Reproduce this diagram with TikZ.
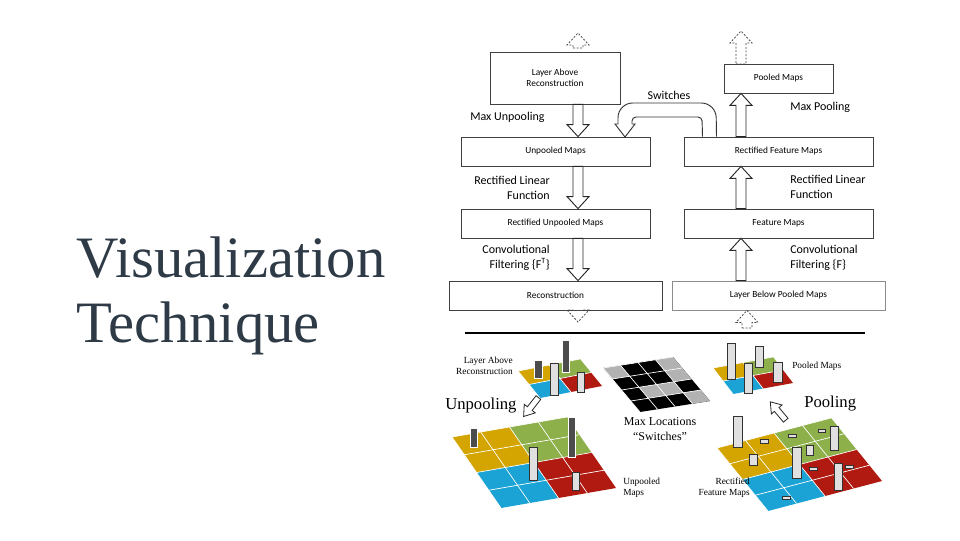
\documentclass[tikz,border=0pt]{standalone}
\usepackage{fontspec}
\setmainfont{Liberation Serif}
\newfontfamily\calfont{Carlito}
\usetikzlibrary{calc}
\definecolor{yel}{HTML}{D4A500}
\definecolor{grn}{HTML}{8DB04A}
\definecolor{blu}{HTML}{1AA3D4}
\definecolor{rd}{HTML}{B01A10}
\definecolor{ttl}{HTML}{2E3B47}
\tikzset{
 box/.style={draw=black!75,line width=0.6pt,minimum height=21.75pt,inner sep=1pt,font=\calfont\fontsize{7}{8}\selectfont,align=center},
 lbl/.style={font=\calfont\fontsize{9}{11.5}\selectfont,inner sep=0pt},
 fat/.style={draw=black!85,line width=0.7pt,fill=white},
 fatd/.style={draw=black!70,line width=0.6pt,dashed,dash pattern=on 1.5pt off 1.2pt},
 sl/.style={font=\fontsize{7}{8}\selectfont,inner sep=0pt},
 lbar/.style={fill=black!12,draw=black!80,line width=0.5pt},
 dbar/.style={fill=black!70,draw=white,line width=0.5pt},
 gl/.style={draw=white,line width=0.5pt},
}
\newcommand\fatdown[4][fat]{\draw[#1] let \p1=#3, \p2=#4, \p3=(#2,0) in
 ({\x3-3.75pt},\y1)--({\x3+3.75pt},\y1)--({\x3+3.75pt},{\y2+9pt})--({\x3+8.25pt},{\y2+9pt})--(\x3,\y2)--({\x3-8.25pt},{\y2+9pt})--({\x3-3.75pt},{\y2+9pt})--cycle;}
\newcommand\fatup[4][fat]{\draw[#1] let \p1=#3, \p2=#4, \p3=(#2,0) in
 ({\x3-3.75pt},\y1)--({\x3+3.75pt},\y1)--({\x3+3.75pt},{\y2-9pt})--({\x3+8.25pt},{\y2-9pt})--(\x3,\y2)--({\x3-8.25pt},{\y2-9pt})--({\x3-3.75pt},{\y2-9pt})--cycle;}
\newcommand\cellat[3]{\fill[#1] (#2-1,#3-1)--(#2,#3-1)--(#2,#3)--(#2-1,#3)--cycle;}
\newcommand\gridlines[1]{\foreach \k in {1,...,#1}{\draw[gl] (\k-1,0)--(\k-1,#1) (0,\k-1)--(#1,\k-1);}}
\newcommand\isogrid[7]{\begin{scope}[shift={(#1,#2)},x={({(#3-#1)/#7*0.75pt},{-(#4-#2)/#7*0.75pt})},y={({(#5-#1)/#7*0.75pt},{-(#6-#2)/#7*0.75pt})}]
 \pgfmathtruncatemacro\hn{#7/2}
 \foreach \i in {1,...,#7}{\foreach \j in {1,...,#7}{
  \pgfmathtruncatemacro\cc{\i<=\hn ? (\j<=\hn ? 0 : 2) : (\j<=\hn ? 1 : 3)}
  \ifcase\cc\relax\def\col{yel}\or\def\col{grn}\or\def\col{blu}\else\def\col{rd}\fi
  \cellat{\col}{\i}{\j}}}
 \gridlines{#7}
\end{scope}}
\begin{document}
\begin{tikzpicture}[x=0.75pt,y=-0.75pt]
\useasboundingbox (0,0) rectangle (960,540);
\fill[white] (0,0) rectangle (960,540);
% title
\node[anchor=base west,text=ttl,font=\fontsize{44}{50}\selectfont,inner sep=0pt] (title) at (76,277) {Visualization};
\node[anchor=base west,text=ttl,font=\fontsize{44}{50}\selectfont,inner sep=0pt] (title2) at (76,342) {Technique};
% boxes
\node[box,minimum width=97.5pt,minimum height=39pt] (lar) at (555,78) {Layer Above\\Reconstruction};
\node[box,minimum width=141.75pt] (unp) at (555.5,151.5) {Unpooled Maps};
\node[box,minimum width=141.75pt] (run) at (555.5,223.5) {Rectified Unpooled Maps};
\node[box,minimum width=159.75pt] (rec) at (555.5,295.5) {Reconstruction};
\node[box,minimum width=81.75pt] (pm) at (778.5,78.5) {Pooled Maps};
\node[box,minimum width=141.75pt] (rfm) at (778.5,151.5) {Rectified Feature Maps};
\node[box,minimum width=141.75pt] (fm) at (778.5,223.5) {Feature Maps};
\node[box,minimum width=159.75pt,draw=black!45] (lbp) at (778.5,295.5) {Layer Below Pooled Maps};
% arrows
\fatdown{578}{($(lar.south)$)}{($(unp.north)$)}
\fatdown{578}{($(unp.south)$)}{($(run.north)$)}
\fatdown{578}{($(run.south)$)}{($(rec.north)$)}
\fatup{741}{($(rfm.north)$)}{($(pm.south)$)}
\fatup{741}{($(fm.north)$)}{($(rfm.south)$)}
\fatup{741}{($(lbp.north)$)}{($(fm.south)$)}
\coordinate (d1a) at (578,48); \coordinate (d1b) at (578,33);
\fatup[fatd]{578}{(d1a)}{(d1b)}
\coordinate (d2a) at (741,64); \coordinate (d2b) at (741,31);
\fatup[fatd]{741}{(d2a)}{(d2b)}
\coordinate (d3b) at (578,322);
\fatdown[fatd]{578}{($(rec.south)$)}{(d3b)}
\coordinate (d4a) at (747,328);
\fatup[fatd]{747}{(d4a)}{($(lbp.south)$)}
% switches
\draw[black!80,line width=0.7pt,rounded corners=11pt] ($(rfm.north)+(-62,0)$) coordinate (s1) -- (716,103) -- (618,103) -- (618,124);
\draw[black!80,line width=0.7pt,rounded corners=3pt] ($(rfm.north)+(-76,0)$) -- (702,117) -- (632,117) -- (632,124);
\draw[black!80,line width=0.7pt] (618,124) -- (615,124) -- (625,137) -- (635,124) -- (632,124);
\node[lbl] (sw) at (669,95) {Switches};
% labels
\node[lbl,anchor=west] (l1) at (470,117) {Max Unpooling};
\node[lbl,anchor=east,align=right] (l2) at (550,188) {Rectified Linear\\Function};
\node[lbl,anchor=east,align=right] (l3) at (550,258) {Convolutional\\Filtering \{F\textsuperscript{T}\}};
\node[lbl,anchor=west] (r1) at (790,107) {Max Pooling};
\node[lbl,anchor=west,align=left] (r2) at (790,187) {Rectified Linear\\Function};
\node[lbl,anchor=west,align=left] (r3) at (790,258) {Convolutional\\Filtering \{F\}};
\draw[line width=1.4pt] (465,333) -- (865,333);
% bottom grids
\isogrid{518}{371}{580}{359}{540}{398}{2}
\isogrid{452}{437}{567}{417}{501}{508}{4}
\isogrid{713}{368}{773}{357}{733}{394}{2}
\isogrid{717}{448}{831}{418}{768}{511}{4}
% switches grid
\begin{scope}[shift={(603,368)},x={({(673-603)/4*0.75pt},{-(357-368)/4*0.75pt})},y={({(640-603)/4*0.75pt},{-(412-368)/4*0.75pt})}]
\foreach \i in {1,...,4}{\foreach \j in {1,...,4}{\cellat{black}{\i}{\j}}}
\foreach \i/\j in {1/1,4/2,2/3,3/3,4/4,4/1}{\cellat{black!30}{\i}{\j}}
\gridlines{4}
\end{scope}
% bars
\draw[dbar] (534,360) rectangle (542,378);
\draw[dbar] (562,340) rectangle (569,372);
\draw[lbar] (550,363) rectangle (558,395);
\draw[lbar] (577,372) rectangle (584,392);
\draw[dbar] (470,428) rectangle (477,447);
\draw[dbar] (568,417) rectangle (575,457);
\draw[lbar] (529,447) rectangle (537,480);
\draw[lbar] (572,472) rectangle (579,490);
\draw[lbar] (727,343) rectangle (735,379);
\draw[lbar] (755,346) rectangle (763,367);
\draw[lbar] (744,363) rectangle (752,393);
\draw[lbar] (773,362) rectangle (782,382);
\draw[lbar] (733,416) rectangle (742,447);
\draw[lbar] (830,426) rectangle (838,450);
\draw[lbar] (792,447) rectangle (801,478);
\draw[lbar] (834,463) rectangle (842,490);
\draw[lbar] (749,454) rectangle (757,465);
\draw[lbar] (806,445) rectangle (813,455);
\draw[lbar] (760,439) rectangle (768,443);
\draw[lbar] (788,434) rectangle (796,437);
\draw[lbar] (818,429) rectangle (825,432);
\draw[lbar] (809,467) rectangle (817,470);
\draw[lbar] (845,465) rectangle (853,468);
\draw[lbar] (782,496) rectangle (790,499);
% small diagonal arrows
\begin{scope}[shift={(531,407)},rotate=-128]
\draw[fat,line width=0.6pt] (-12,-3)--(2,-3)--(2,-7)--(12,0)--(2,7)--(2,3)--(-12,3)--cycle;
\end{scope}
\begin{scope}[shift={(778,411)},rotate=130]
\draw[fat,line width=0.6pt] (-12,-3)--(2,-3)--(2,-7)--(12,0)--(2,7)--(2,3)--(-12,3)--cycle;
\end{scope}
% bottom labels
\node[sl,anchor=east,align=right] (b1) at (513,366) {Layer Above\\Reconstruction};
\node[anchor=west,inner sep=0pt,font=\fontsize{12.5}{14}\selectfont] (b2) at (445,406) {Unpooling};
\node[sl,anchor=west] (b3) at (792,366) {Pooled Maps};
\node[anchor=west,inner sep=0pt,font=\fontsize{12.5}{14}\selectfont] (b4) at (804,404) {Pooling};
\node[align=center,inner sep=0pt,font=\fontsize{9}{11}\selectfont] (b5) at (660,429) {Max Locations\\``Switches''};
\node[sl,anchor=west,align=left] (b6) at (623,488) {Unpooled\\Maps};
\node[sl,anchor=east,align=right] (b7) at (750,488) {Rectified\\Feature Maps};
\end{tikzpicture}
\end{document}
